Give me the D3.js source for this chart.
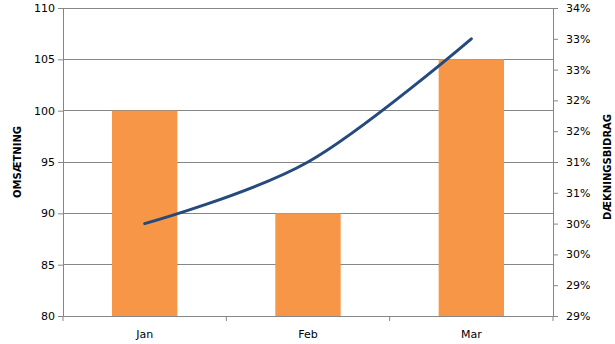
<!DOCTYPE html>
<html>
<head>
<meta charset="utf-8">
<script src="https://cdn.jsdelivr.net/npm/d3@7"></script>
<style>
  body { margin: 0; background: #fff; }
  text { font-family: "DejaVu Sans", Verdana, sans-serif; }
</style>
</head>
<body>
<svg id="chart"></svg>
<script>
const months = ["Jan", "Feb", "Mar"];
const omsaetning = [100, 90, 105];
const daekning = [0.305, 0.315, 0.335];
const leftTicks = [80, 85, 90, 95, 100, 105, 110];
const rightTicks = [0.29, 0.295, 0.30, 0.305, 0.31, 0.315, 0.32, 0.325, 0.33, 0.335, 0.34];
const rightLabels = ["29%", "29%", "30%", "30%", "31%", "31%", "32%", "32%", "33%", "33%", "34%"];

const svgWidth = 615, svgHeight = 344;
const plot = { left: 63, right: 553, top: 8, bottom: 316 };
const axisColor = "#868686";

const svg = d3.select("#chart").attr("width", svgWidth).attr("height", svgHeight);

const x = d3.scaleBand().domain(months).range([plot.left, plot.right]).padding(0);
const yL = d3.scaleLinear().domain([80, 110]).range([plot.bottom, plot.top]);
const yR = d3.scaleLinear().domain([0.29, 0.34]).range([plot.bottom, plot.top]);

// gridlines
svg.append("g").selectAll("line").data(leftTicks.slice(1)).join("line")
  .attr("x1", plot.left).attr("x2", plot.right)
  .attr("y1", d => yL(d)).attr("y2", d => yL(d))
  .attr("stroke", axisColor).attr("stroke-width", 1)
  .attr("shape-rendering", "crispEdges");

// bars
const barW = x.bandwidth() * 0.4;
svg.append("g").selectAll("rect").data(months).join("rect")
  .attr("x", (d) => x(d) + (x.bandwidth() - barW) / 2)
  .attr("width", barW)
  .attr("y", (d, i) => yL(omsaetning[i]))
  .attr("height", (d, i) => yL(80) - yL(omsaetning[i]))
  .attr("fill", "#f79646");

// left axis
const gL = svg.append("g").attr("transform", `translate(${plot.left},0)`)
  .call(d3.axisLeft(yL).tickValues(leftTicks).tickSize(5).tickPadding(3));
// right axis
const gR = svg.append("g").attr("transform", `translate(${plot.right},0)`)
  .call(d3.axisRight(yR).tickValues(rightTicks).tickSize(5).tickPadding(8)
    .tickFormat((d, i) => rightLabels[i]));
// bottom axis (labels only)
const gB = svg.append("g").attr("transform", `translate(0,${plot.bottom})`)
  .call(d3.axisBottom(x).tickSize(0).tickPadding(14));
// category boundary ticks
const bounds = months.map(m => x(m)).concat([plot.right]);
gB.selectAll(".bound").data(bounds).join("line").attr("class", "bound")
  .attr("x1", d => d).attr("x2", d => d).attr("y1", 0).attr("y2", 5)
  .attr("stroke", axisColor);

[gL, gR, gB].forEach(g => {
  g.select(".domain").attr("stroke", axisColor);
  g.selectAll(".tick line").attr("stroke", axisColor);
  g.selectAll("text").attr("font-size", "11px").attr("fill", "#000")
    .attr("font-family", "'DejaVu Sans', Verdana, sans-serif");
});

// line
const line = d3.line()
  .x((d, i) => x(months[i]) + x.bandwidth() / 2)
  .y(d => yR(d))
  .curve(d3.curveCardinal);
svg.append("path").datum(daekning)
  .attr("fill", "none")
  .attr("stroke", "#254a7e")
  .attr("stroke-width", 3)
  .attr("stroke-linecap", "round")
  .attr("d", line);

// axis titles
svg.append("text")
  .attr("transform", `translate(21,162) rotate(-90)`)
  .attr("text-anchor", "middle")
  .attr("font-family", "'Liberation Sans', Arial, sans-serif")
  .attr("font-weight", "bold").attr("font-size", "10px")
  .text("OMSÆTNING");
svg.append("text")
  .attr("transform", `translate(611,167) rotate(-90)`)
  .attr("text-anchor", "middle")
  .attr("font-family", "'Liberation Sans', Arial, sans-serif")
  .attr("font-weight", "bold").attr("font-size", "10px")
  .text("DÆKNINGSBIDRAG");
</script>
</body>
</html>
